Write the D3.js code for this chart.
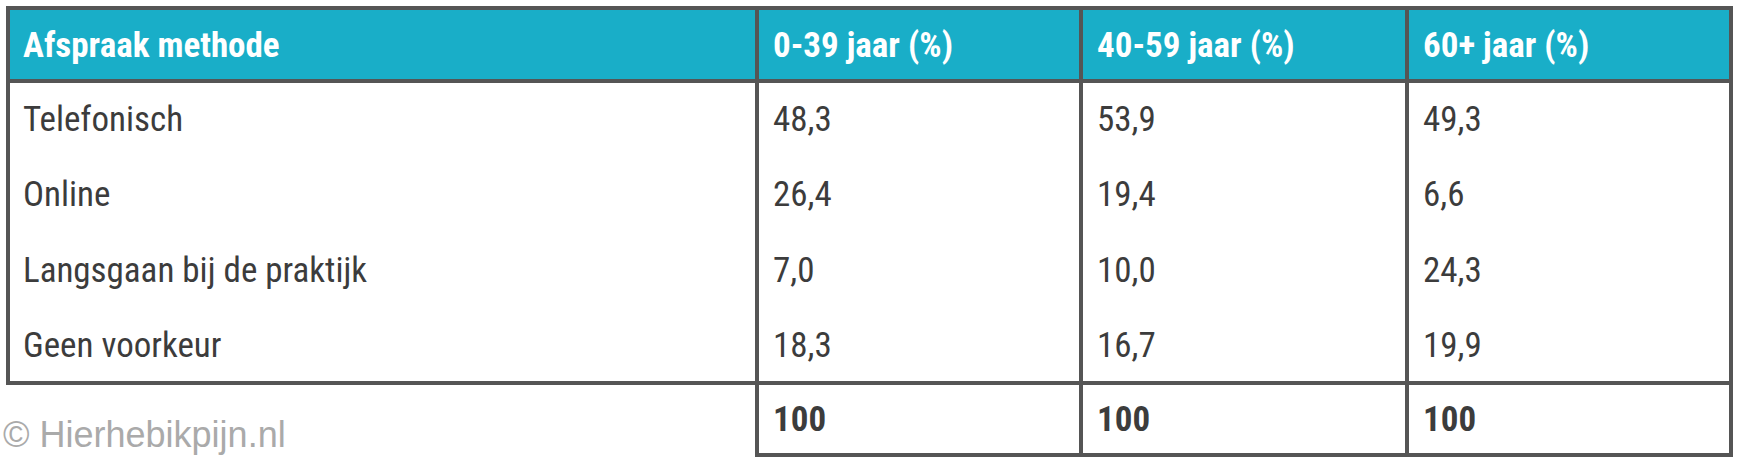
<!DOCTYPE html>
<html><head><meta charset="utf-8">
<script src="https://cdn.jsdelivr.net/npm/d3@7"></script>
<style>body{margin:0;background:#fff;}</style>
</head><body><div id="chart"></div>
<script>
const headers = ["Afspraak methode", "0-39 jaar (%)", "40-59 jaar (%)", "60+ jaar (%)"];
const methods = ["Telefonisch", "Online", "Langsgaan bij de praktijk", "Geen voorkeur"];
const age0_39 = ["48,3", "26,4", "7,0", "18,3"];
const age40_59 = ["53,9", "19,4", "10,0", "16,7"];
const age60 = ["49,3", "6,6", "24,3", "19,9"];
const totals = ["100", "100", "100"];

const width = 1740, height = 464;
const svg = d3.select("#chart").append("svg")
    .attr("width", width).attr("height", height);

const font = "'Liberation Sans Narrow', 'Roboto Condensed', 'Open Sans', sans-serif";
const grey = "#555555";
const x = [8, 757, 1081, 1407, 1731];
const tableTop = 8, headBottom = 81, bodyBottom = 383, totalBottom = 455;
const rowY = d3.scaleBand().domain(d3.range(methods.length)).range([headBottom, bodyBottom]);

// header
svg.append("rect").attr("x", x[0]).attr("y", tableTop).attr("width", x[4] - x[0]).attr("height", headBottom - tableTop)
    .attr("fill", "#19aec8");
svg.selectAll("text.head").data(headers).join("text")
    .attr("x", (d, i) => x[i] + (i ? 16 : 15))
    .attr("y", (tableTop + headBottom) / 2 + 12)
    .attr("fill", "#fff").attr("font-weight", "bold").attr("font-size", 35).attr("font-family", font)
    .text(d => d);

// body
const cols = [methods, age0_39, age40_59, age60];
cols.forEach((col, c) => {
    svg.selectAll("text.c" + c).data(col).join("text")
        .attr("x", x[c] + (c ? 16 : 15))
        .attr("y", (d, i) => rowY(i) + rowY.bandwidth() / 2 + 12)
        .attr("fill", "#3c3c3c").attr("font-size", 35).attr("font-family", font)
        .text(d => d);
});
svg.selectAll("text.tot").data(totals).join("text")
    .attr("x", (d, i) => x[i + 1] + 16)
    .attr("y", (bodyBottom + totalBottom) / 2 + 12)
    .attr("fill", "#3c3c3c").attr("font-weight", "bold").attr("font-size", 35).attr("font-family", font)
    .text(d => d);

// borders
const line = (x1, y1, x2, y2) => svg.append("line")
    .attr("x1", x1).attr("y1", y1).attr("x2", x2).attr("y2", y2)
    .attr("stroke", grey).attr("stroke-width", 4).attr("stroke-linecap", "square");
line(x[0], tableTop, x[4], tableTop);
line(x[0], headBottom, x[4], headBottom);
line(x[0], bodyBottom, x[4], bodyBottom);
line(x[1], totalBottom, x[4], totalBottom);
line(x[0], tableTop, x[0], bodyBottom);
[1, 2, 3, 4].forEach(i => line(x[i], tableTop, x[i], totalBottom));

// watermark
svg.append("text").attr("x", 3).attr("y", 447)
    .attr("fill", "#aaaaaa").attr("font-size", 36).attr("font-family", "'Liberation Sans Narrow', 'Liberation Sans', sans-serif")
    .text("© Hierhebikpijn.nl");
</script></body></html>
